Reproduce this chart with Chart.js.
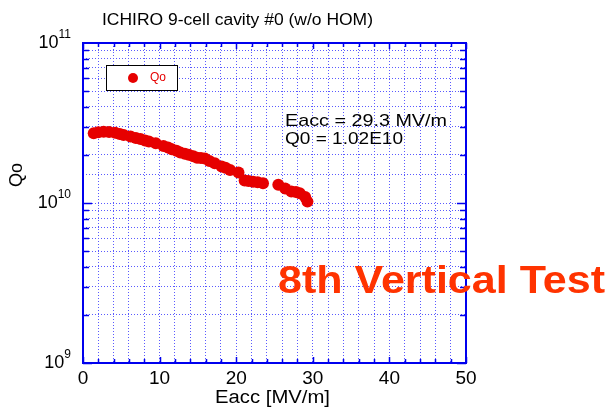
<!DOCTYPE html>
<html>
<head>
<meta charset="utf-8">
<script src="https://cdn.jsdelivr.net/npm/chart.js@4.4.1/dist/chart.umd.min.js"></script>
<style>
  html, body { margin: 0; padding: 0; background: #fff; }
  #wrap { width: 611px; height: 410px; position: relative; }
</style>
</head>
<body>
<div id="wrap"><canvas id="c" width="611" height="410"></canvas></div>
<script>
  /* data */
  var eacc = [1.4, 2.0, 2.7, 3.4, 4.2, 4.8, 5.3, 6.2, 6.9, 7.5, 8.1, 8.6, 9.5, 10.5, 11.1, 11.6,
              12.2, 12.7, 13.3, 13.8, 14.4, 14.9, 15.4, 15.9, 16.5, 17.2, 18.1, 18.6, 19.2, 20.3,
              21.1, 21.6, 22.2, 22.8, 23.5, 25.5, 26.4, 27.2, 27.8, 28.3, 29.0, 29.3];
  var q0 = [2.73, 2.77, 2.79, 2.78, 2.75, 2.70, 2.66, 2.60, 2.55, 2.51, 2.46, 2.42, 2.36, 2.27, 2.22, 2.17,
            2.12, 2.07, 2.03, 2.00, 1.96, 1.92, 1.91, 1.90, 1.83, 1.77, 1.69, 1.66, 1.61, 1.55,
            1.38, 1.37, 1.36, 1.35, 1.33, 1.30, 1.23, 1.18, 1.17, 1.15, 1.09, 1.02].map(function (v) { return v * 1e10; });
  var xTicks = [0, 10, 20, 30, 40, 50];
  var yDecades = [9, 10, 11];

  var BLUE = "#0000ee";
  var GRID = "#5a5aff";
  var RED = "#e60000";
  var SANS = "'Liberation Sans', Arial, sans-serif";

  var points = eacc.map(function (x, i) { return { x: x, y: q0[i] }; });

  // draw text stretched to a given width
  function fitText(ctx, txt, x, y, width) {
    var w = ctx.measureText(txt).width;
    ctx.save();
    ctx.translate(x, y);
    ctx.scale(width / w, 1);
    ctx.fillText(txt, 0, 0);
    ctx.restore();
  }

  var frame = {
    id: "frame",
    afterDraw: function (chart) {
      var ctx = chart.ctx, a = chart.chartArea;
      var xs = chart.scales.x, ys = chart.scales.y;
      ctx.save();

      // border
      ctx.strokeStyle = BLUE;
      ctx.lineWidth = 2;
      ctx.strokeRect(a.left, a.top, a.right - a.left, a.bottom - a.top);

      // x ticks (inward, top and bottom)
      ctx.lineWidth = 1.5;
      for (var v = 0; v <= 50; v += 2) {
        var px = Math.round(xs.getPixelForValue(v)) + 0.5;
        var len = v % 10 === 0 ? 6 : 4;
        ctx.beginPath();
        ctx.moveTo(px, a.bottom); ctx.lineTo(px, a.bottom - len);
        ctx.moveTo(px, a.top); ctx.lineTo(px, a.top + len);
        ctx.stroke();
      }
      // y ticks (inward, left and right)
      for (var d = 9; d <= 10; d++) {
        for (var m = 1; m <= 9; m++) {
          var py = Math.round(ys.getPixelForValue(m * Math.pow(10, d))) + 0.5;
          var l = m === 1 ? 9 : 6;
          ctx.beginPath();
          ctx.moveTo(a.left, py); ctx.lineTo(a.left + l, py);
          ctx.moveTo(a.right, py); ctx.lineTo(a.right - l, py);
          ctx.stroke();
        }
      }

      // x tick labels
      ctx.fillStyle = "#000";
      ctx.font = "19px " + SANS;
      ctx.textAlign = "center";
      ctx.textBaseline = "middle";
      xTicks.forEach(function (t) {
        ctx.fillText(String(t), xs.getPixelForValue(t), 379);
      });

      // y tick labels 10^n
      yDecades.forEach(function (d) {
        var py = ys.getPixelForValue(Math.pow(10, d));
        ctx.font = "18px " + SANS;
        var wBase = ctx.measureText("10").width;
        ctx.font = "12px " + SANS;
        var wSup = ctx.measureText(String(d)).width;
        var x0 = 71 - wBase - wSup;
        ctx.textAlign = "left";
        ctx.font = "18px " + SANS;
        ctx.fillText("10", x0, py);
        ctx.font = "12px " + SANS;
        ctx.fillText(String(d), x0 + wBase, py - 8);
      });

      // axis titles
      ctx.font = "18px " + SANS;
      ctx.textAlign = "left";
      fitText(ctx, "Eacc [MV/m]", 215, 398, 115);
      ctx.save();
      ctx.translate(17, 175);
      ctx.rotate(-Math.PI / 2);
      ctx.textAlign = "center";
      ctx.fillText("Qo", 0, 0);
      ctx.restore();

      // title
      ctx.font = "16px " + SANS;
      fitText(ctx, "ICHIRO 9-cell cavity #0 (w/o HOM)", 102, 21, 271);

      // legend
      ctx.fillStyle = "#fff";
      ctx.fillRect(106, 65, 71, 25);
      ctx.strokeStyle = "#000";
      ctx.lineWidth = 1;
      ctx.strokeRect(106.5, 65.5, 71, 25);
      ctx.fillStyle = RED;
      ctx.beginPath();
      ctx.arc(133, 78, 5, 0, Math.PI * 2);
      ctx.fill();
      ctx.font = "12px " + SANS;
      ctx.fillText("Qo", 150, 78);

      // annotation
      ctx.fillStyle = "#000";
      ctx.font = "17px " + SANS;
      fitText(ctx, "Eacc = 29.3 MV/m", 285, 121, 162);
      fitText(ctx, "Q0 = 1.02E10", 285, 139, 118);

      // big label
      ctx.fillStyle = "#ff3300";
      ctx.font = "bold 38px " + SANS;
      fitText(ctx, "8th Vertical Test", 278, 283, 327);

      ctx.restore();
    }
  };

  new Chart(document.getElementById("c"), {
    type: "scatter",
    data: {
      datasets: [{
        label: "Qo",
        data: points,
        backgroundColor: RED,
        borderColor: RED,
        pointRadius: 6,
        pointBorderWidth: 0
      }]
    },
    options: {
      responsive: false,
      animation: false,
      layout: { padding: { left: 83, top: 43, right: 145, bottom: 47 } },
      plugins: { legend: { display: false }, tooltip: { enabled: false } },
      scales: {
        x: {
          type: "linear", min: 0, max: 50,
          ticks: { display: false, stepSize: 2 },
          grid: { color: GRID, lineWidth: 1, drawTicks: false },
          border: { display: false, dash: [1, 2] }
        },
        y: {
          type: "logarithmic", min: 1e9, max: 1e11,
          ticks: { display: false },
          grid: { color: GRID, lineWidth: 1, drawTicks: false },
          border: { display: false, dash: [1, 2] }
        }
      }
    },
    plugins: [frame]
  });
</script>
</body>
</html>
